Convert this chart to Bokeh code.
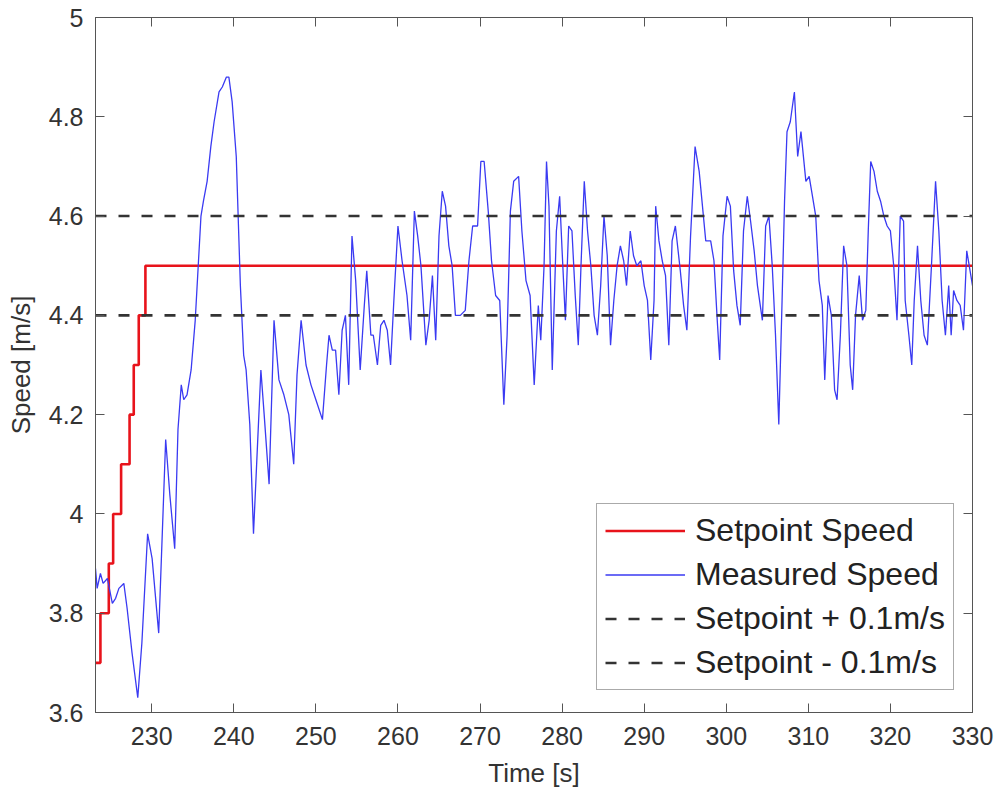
from bokeh.plotting import figure
from bokeh.models import (Range1d, LinearAxis, FixedTicker, NumeralTickFormatter,
                          CustomJSTickFormatter, Legend, LegendItem)
from bokeh.embed import file_html
from bokeh.resources import INLINE

# ---------------- data ----------------
setpoint_t = [223.15, 223.75, 224.77, 225.3, 226.27, 227.3, 227.81, 228.42, 229.23, 330.0]
setpoint_v = [3.7, 3.8, 3.9, 4.0, 4.1, 4.2, 4.3, 4.4, 4.5, 4.5]

band_t = [223.15, 330.0]
upper_v = [4.6, 4.6]
lower_v = [4.4, 4.4]

measured_t = [
    223.15, 223.35, 223.75, 224.08, 224.6, 225.2, 225.6, 226.0, 226.6, 227.0,
    227.6, 228.3, 228.8, 229.5, 230.05, 230.85, 231.7, 232.2, 232.8, 233.2,
    233.6, 233.9, 234.3, 234.8, 235.3, 235.7, 236.0, 236.3, 236.75, 237.2,
    237.6, 238.2, 238.6, 239.1, 239.4, 239.8, 240.3, 240.8, 241.2, 241.5,
    241.95, 242.4, 243.3, 243.7, 244.3, 244.9, 245.5, 246.1, 246.7, 247.3,
    247.7, 248.2, 248.8, 249.4, 250.0, 250.8, 251.3, 251.6, 252.0, 252.4,
    252.8, 253.2, 253.6, 254.0, 254.4, 254.85, 255.4, 255.9, 256.2, 256.7,
    257.0, 257.5, 257.9, 258.3, 258.7, 259.1, 259.5, 260.0, 260.5, 261.1,
    261.55, 262.0, 262.4, 262.8, 263.4, 263.8, 264.2, 264.6, 265.0, 265.4,
    265.8, 266.2, 266.6, 267.0, 267.6, 268.2, 268.65, 269.1, 269.7, 270.1,
    270.5, 271.0, 271.4, 271.9, 272.4, 272.9, 273.3, 273.7, 274.1, 274.7,
    275.1, 275.6, 276.1, 276.6, 277.1, 277.4, 277.8, 278.1, 278.4, 278.8,
    279.3, 279.7, 280.0, 280.4, 280.8, 281.2, 281.6, 281.97, 282.3, 282.7,
    283.1, 283.5, 283.9, 284.3, 284.7, 285.1, 285.5, 285.9, 286.3, 286.7,
    287.1, 287.5, 287.85, 288.3, 288.7, 289.1, 289.6, 290.0, 290.4, 290.8,
    291.2, 291.4, 291.8, 292.2, 292.6, 293.0, 293.4, 293.8, 294.4, 294.8,
    295.2, 295.65, 296.2, 296.7, 297.1, 297.5, 298.1, 298.5, 298.9, 299.2,
    299.6, 300.1, 300.5, 300.9, 301.3, 301.7, 302.1, 302.56, 302.96, 303.4,
    303.8, 304.4, 304.8, 305.2, 305.6, 306.0, 306.4, 306.8, 307.1, 307.4,
    307.8, 308.3, 308.7, 309.1, 309.7, 310.1, 310.5, 310.9, 311.3, 311.7,
    312.0, 312.4, 312.8, 313.2, 313.5, 313.9, 314.3, 314.7, 315.1, 315.4,
    315.75, 316.2, 316.6, 317.0, 317.3, 317.6, 318.0, 318.4, 318.8, 319.2,
    319.6, 320.0, 320.4, 320.8, 321.2, 321.6, 321.8, 322.25, 322.6, 322.9,
    323.3, 323.7, 324.1, 324.5, 325.0, 325.5, 325.9, 326.3, 326.7, 327.1,
    327.4, 327.7, 328.1, 328.5, 328.9, 329.3, 329.6, 330.0,
]
measured_v = [
    3.89, 3.85, 3.88, 3.86, 3.87, 3.82, 3.83, 3.85, 3.86, 3.81,
    3.72, 3.63, 3.74, 3.96, 3.91, 3.76, 4.15, 4.04, 3.93, 4.17,
    4.26, 4.23, 4.24, 4.29, 4.39, 4.51, 4.60, 4.63, 4.67, 4.74,
    4.79, 4.85, 4.86, 4.88, 4.88, 4.83, 4.72, 4.46, 4.32, 4.29,
    4.18, 3.96, 4.29, 4.20, 4.06, 4.39, 4.27, 4.24, 4.20, 4.10,
    4.28, 4.39, 4.30, 4.26, 4.23, 4.19, 4.30, 4.36, 4.33, 4.33,
    4.24, 4.37, 4.40, 4.26, 4.56, 4.47, 4.29, 4.42, 4.49, 4.36,
    4.36, 4.30, 4.38, 4.39, 4.37, 4.30, 4.43, 4.58, 4.51, 4.44,
    4.35, 4.61, 4.56, 4.50, 4.34, 4.39, 4.48, 4.35, 4.56, 4.65,
    4.62, 4.54, 4.50, 4.40, 4.40, 4.41, 4.51, 4.58, 4.58, 4.71,
    4.71, 4.61, 4.51, 4.44, 4.43, 4.22, 4.36, 4.61, 4.67, 4.68,
    4.57, 4.47, 4.44, 4.26, 4.42, 4.35, 4.50, 4.71, 4.62, 4.29,
    4.57, 4.64, 4.53, 4.39, 4.58, 4.57, 4.44, 4.34, 4.50, 4.67,
    4.57, 4.50, 4.40, 4.36, 4.46, 4.60, 4.52, 4.34, 4.43, 4.50,
    4.54, 4.51, 4.46, 4.57, 4.52, 4.50, 4.51, 4.46, 4.43, 4.31,
    4.43, 4.62, 4.55, 4.51, 4.48, 4.34, 4.55, 4.58, 4.49, 4.42,
    4.37, 4.56, 4.74, 4.69, 4.62, 4.55, 4.55, 4.51, 4.39, 4.31,
    4.56, 4.64, 4.62, 4.49, 4.42, 4.38, 4.57, 4.64, 4.59, 4.53,
    4.46, 4.39, 4.58, 4.60, 4.50, 4.36, 4.18, 4.43, 4.63, 4.77,
    4.79, 4.85, 4.72, 4.77, 4.67, 4.68, 4.64, 4.60, 4.47, 4.42,
    4.27, 4.44, 4.40, 4.25, 4.23, 4.36, 4.54, 4.50, 4.30, 4.25,
    4.40, 4.48, 4.39, 4.41, 4.57, 4.71, 4.69, 4.65, 4.63, 4.60,
    4.58, 4.57, 4.50, 4.39, 4.60, 4.59, 4.43, 4.36, 4.30, 4.43,
    4.54, 4.43, 4.36, 4.34, 4.50, 4.67, 4.57, 4.43, 4.36, 4.46,
    4.36, 4.45, 4.43, 4.42, 4.37, 4.53, 4.50, 4.46,
]

x_ticks = [230, 240, 250, 260, 270, 280, 290, 300, 310, 320, 330]
y_ticks = [3.6, 3.8, 4.0, 4.2, 4.4, 4.6, 4.8, 5.0]

labels = ["Setpoint Speed", "Measured Speed", "Setpoint + 0.1m/s", "Setpoint - 0.1m/s"]

# ---------------- figure ----------------
FONT = "Liberation Sans"
AX = "#555555"
TXT = "#333333"

p = figure(width=995, height=790, output_backend="svg", toolbar_location=None,
           x_range=Range1d(223.15, 330), y_range=Range1d(3.6, 5.0),
           min_border_left=95, min_border_right=23, min_border_top=17,
           min_border_bottom=77)
p.grid.visible = False
p.outline_line_color = AX
p.background_fill_color = "white"
p.border_fill_color = "white"

for ax in (p.xaxis[0], p.yaxis[0]):
    ax.axis_line_color = AX
    ax.major_tick_line_color = AX
    ax.major_tick_in = 9
    ax.major_tick_out = 0
    ax.minor_tick_line_color = None
    ax.major_label_text_font = FONT
    ax.major_label_text_font_size = "25px"
    ax.major_label_text_color = TXT
    ax.axis_label_text_font = FONT
    ax.axis_label_text_font_size = "26px"
    ax.axis_label_text_font_style = "normal"
    ax.axis_label_text_color = TXT

p.xaxis[0].ticker = FixedTicker(ticks=x_ticks)
p.yaxis[0].ticker = FixedTicker(ticks=y_ticks)
p.yaxis[0].formatter = NumeralTickFormatter(format="0.[0]")
p.xaxis[0].axis_label = "Time [s]"
p.yaxis[0].axis_label = "Speed [m/s]"
p.xaxis[0].major_label_standoff = 14
p.yaxis[0].major_label_standoff = 12
p.xaxis[0].axis_label_standoff = 10
p.yaxis[0].axis_label_standoff = 10

blank = CustomJSTickFormatter(code="return ''")
top = LinearAxis(ticker=FixedTicker(ticks=x_ticks), formatter=blank,
                 major_tick_in=9, major_tick_out=0, minor_tick_line_color=None,
                 axis_line_color=AX, major_tick_line_color=AX, major_label_standoff=0)
right = LinearAxis(ticker=FixedTicker(ticks=y_ticks), formatter=blank,
                   major_tick_in=9, major_tick_out=0, minor_tick_line_color=None,
                   axis_line_color=AX, major_tick_line_color=AX, major_label_standoff=0)
p.add_layout(top, "above")
p.add_layout(right, "right")

r_set = p.step(setpoint_t, setpoint_v, mode="after", line_color="#e8131b", line_width=2.6)
r_meas = p.line(measured_t, measured_v, line_color="#3a3af2", line_width=1.3)
r_up = p.line(band_t, upper_v, line_color="#333333", line_width=2.6, line_dash="11 12")
r_lo = p.line(band_t, lower_v, line_color="#333333", line_width=2.6, line_dash="11 12")

legend = Legend(items=[LegendItem(label=labels[0], renderers=[r_set]),
                       LegendItem(label=labels[1], renderers=[r_meas]),
                       LegendItem(label=labels[2], renderers=[r_up]),
                       LegendItem(label=labels[3], renderers=[r_lo])],
                location=(501, 22), label_text_font=FONT, label_text_font_size="32px",
                label_text_color="#222222", glyph_width=80, glyph_height=37,
                label_height=37, spacing=7, padding=8, margin=0, label_standoff=10,
                border_line_color=AX, border_line_width=1, background_fill_alpha=1)
p.add_layout(legend)

open("out.html", "w").write(file_html(p, INLINE))
